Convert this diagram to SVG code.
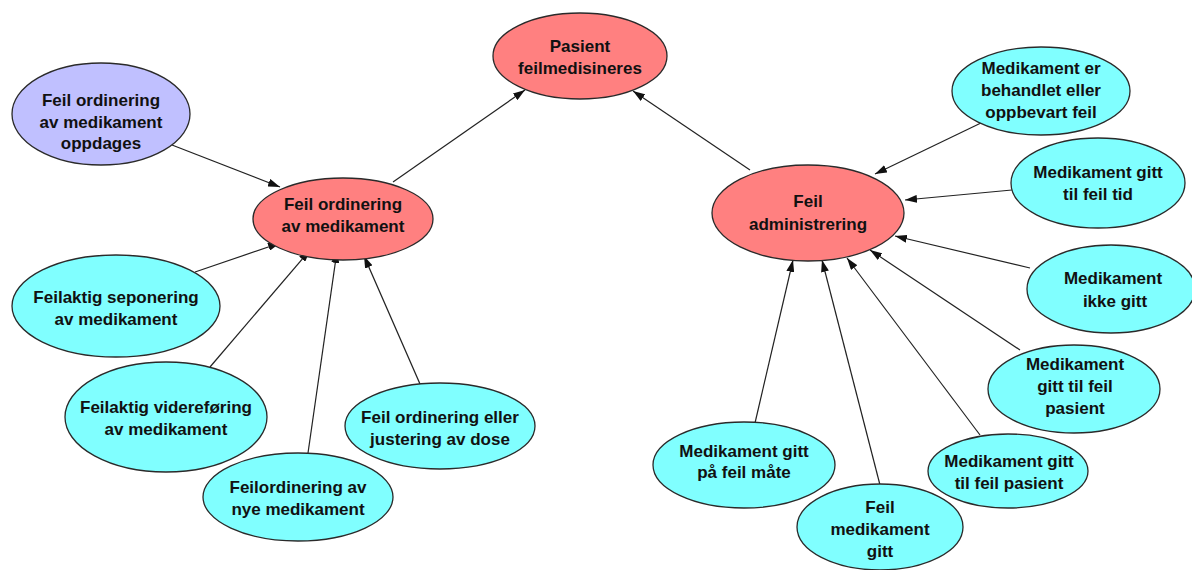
<svg xmlns="http://www.w3.org/2000/svg" width="1192" height="570" viewBox="0 0 1192 570">
  <style>
    .node ellipse { stroke: #2a2a2a; stroke-width: 1.3; }
    .red ellipse { fill: #ff8080; }
    .cyan ellipse { fill: #80ffff; }
    .lav ellipse { fill: #c0c0ff; }
    .node text { font-family: "Liberation Sans", Arial, sans-serif; font-weight: bold; font-size: 17px; fill: #111; text-anchor: middle; }
    .edges line { stroke: #222; stroke-width: 1.2; marker-end: url(#arrow); }
  </style>
  <defs>
    <marker id="arrow" markerUnits="userSpaceOnUse" markerWidth="12" markerHeight="8" refX="12" refY="4" orient="auto">
      <path d="M0,0 L12,4 L0,8 z" fill="#111"/>
    </marker>
  </defs>
  <rect width="1192" height="570" fill="#fff"/>

  <!-- arrows point from each cause to the node it leads to -->
  <g class="edges">
    <line x1="172" y1="145" x2="280" y2="187"/>
    <line x1="393" y1="182" x2="525" y2="90"/>
    <line x1="750" y1="170" x2="633" y2="91"/>
    <line x1="195" y1="272" x2="280" y2="243"/>
    <line x1="210" y1="367" x2="310" y2="250"/>
    <line x1="308" y1="453" x2="337" y2="251"/>
    <line x1="420" y1="384" x2="364" y2="256"/>
    <line x1="983" y1="122" x2="875" y2="174"/>
    <line x1="1012" y1="190" x2="905" y2="200"/>
    <line x1="1030" y1="268" x2="895" y2="236"/>
    <line x1="1020" y1="350" x2="870" y2="250"/>
    <line x1="980" y1="435" x2="847" y2="258"/>
    <line x1="880" y1="485" x2="822" y2="260"/>
    <line x1="755" y1="423" x2="793" y2="260"/>
  </g>

  <g id="pasient" class="node red">
    <ellipse cx="580" cy="56" rx="87" ry="43"/>
    <text x="580" y="52">Pasient</text>
    <text x="580" y="74">feilmedisineres</text>
  </g>

  <g id="oppdages" class="node lav">
    <ellipse cx="101" cy="114" rx="89" ry="51"/>
    <text x="101" y="106">Feil ordinering</text>
    <text x="101" y="128">av medikament</text>
    <text x="101" y="149">oppdages</text>
  </g>

  <g id="feil-ordinering" class="node red">
    <ellipse cx="343" cy="219" rx="90" ry="41"/>
    <text x="343" y="210">Feil ordinering</text>
    <text x="343" y="232">av medikament</text>
  </g>

  <g id="feil-administrering" class="node red">
    <ellipse cx="808" cy="213" rx="96" ry="48"/>
    <text x="808" y="207">Feil</text>
    <text x="808" y="230">administrering</text>
  </g>

  <g id="seponering" class="node cyan">
    <ellipse cx="116" cy="306" rx="104" ry="51"/>
    <text x="116" y="303">Feilaktig seponering</text>
    <text x="116" y="325">av medikament</text>
  </g>

  <g id="videreforing" class="node cyan">
    <ellipse cx="166" cy="417" rx="101" ry="55"/>
    <text x="166" y="413">Feilaktig videreføring</text>
    <text x="166" y="435">av medikament</text>
  </g>

  <g id="nye-medikament" class="node cyan">
    <ellipse cx="298" cy="497" rx="95" ry="44"/>
    <text x="298" y="493">Feilordinering av</text>
    <text x="298" y="515">nye medikament</text>
  </g>

  <g id="dose" class="node cyan">
    <ellipse cx="440" cy="426" rx="95" ry="43"/>
    <text x="440" y="423">Feil ordinering eller</text>
    <text x="440" y="445">justering av dose</text>
  </g>

  <g id="oppbevart" class="node cyan">
    <ellipse cx="1041" cy="91" rx="89" ry="44"/>
    <text x="1041" y="74">Medikament er</text>
    <text x="1041" y="96">behandlet eller</text>
    <text x="1041" y="118">oppbevart feil</text>
  </g>

  <g id="feil-tid" class="node cyan">
    <ellipse cx="1098" cy="183" rx="87" ry="45"/>
    <text x="1098" y="178">Medikament gitt</text>
    <text x="1098" y="200">til feil tid</text>
  </g>

  <g id="ikke-gitt" class="node cyan">
    <ellipse cx="1111" cy="289" rx="84" ry="44"/>
    <text x="1113" y="284">Medikament</text>
    <text x="1115" y="307">ikke gitt</text>
  </g>

  <g id="feil-pasient-1" class="node cyan">
    <ellipse cx="1074" cy="389" rx="86" ry="44"/>
    <text x="1075" y="370">Medikament</text>
    <text x="1075" y="392">gitt til feil</text>
    <text x="1075" y="414">pasient</text>
  </g>

  <g id="feil-maate" class="node cyan">
    <ellipse cx="744" cy="465" rx="91" ry="43"/>
    <text x="744" y="457">Medikament gitt</text>
    <text x="744" y="478">på feil måte</text>
  </g>

  <g id="feil-pasient-2" class="node cyan">
    <ellipse cx="1008" cy="471" rx="80" ry="37"/>
    <text x="1009" y="467">Medikament gitt</text>
    <text x="1009" y="489">til feil pasient</text>
  </g>

  <g id="feil-medikament" class="node cyan">
    <ellipse cx="880" cy="527" rx="83" ry="43"/>
    <text x="880" y="513">Feil</text>
    <text x="880" y="535">medikament</text>
    <text x="880" y="557">gitt</text>
  </g>
</svg>
